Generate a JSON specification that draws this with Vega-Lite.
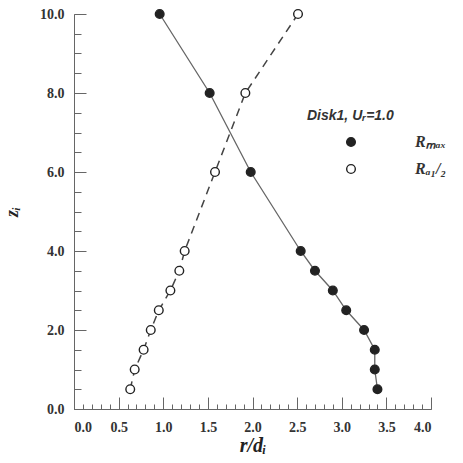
{
  "$schema": "https://vega.github.io/schema/vega-lite/v6.json",
  "width": 357,
  "height": 395,
  "autosize": "none",
  "padding": {"left": 74, "top": 14, "right": 32, "bottom": 54},
  "background": "white",
  "config": {
    "view": {"stroke": null},
    "font": "Liberation Serif",
    "axis": {"grid": false, "domainColor": "#666", "tickColor": "#666", "labelFont": "Liberation Serif", "labelFontWeight": "bold", "labelFontSize": 14, "labelColor": "#333", "titleFont": "Liberation Serif", "titleFontStyle": "italic", "titleColor": "#222"}
  },
  "data": {"values": [
    {"s": "Rₘₐₓ", "r": 0.96, "z": 10},
    {"s": "Rₘₐₓ", "r": 1.52, "z": 8},
    {"s": "Rₘₐₓ", "r": 1.98, "z": 6},
    {"s": "Rₘₐₓ", "r": 2.54, "z": 4},
    {"s": "Rₘₐₓ", "r": 2.70, "z": 3.5},
    {"s": "Rₘₐₓ", "r": 2.90, "z": 3},
    {"s": "Rₘₐₓ", "r": 3.05, "z": 2.5},
    {"s": "Rₘₐₓ", "r": 3.25, "z": 2},
    {"s": "Rₘₐₓ", "r": 3.37, "z": 1.5},
    {"s": "Rₘₐₓ", "r": 3.37, "z": 1},
    {"s": "Rₘₐₓ", "r": 3.40, "z": 0.5},
    {"s": "Rₐ₁/₂", "r": 2.51, "z": 10},
    {"s": "Rₐ₁/₂", "r": 1.92, "z": 8},
    {"s": "Rₐ₁/₂", "r": 1.58, "z": 6},
    {"s": "Rₐ₁/₂", "r": 1.24, "z": 4},
    {"s": "Rₐ₁/₂", "r": 1.18, "z": 3.5},
    {"s": "Rₐ₁/₂", "r": 1.08, "z": 3},
    {"s": "Rₐ₁/₂", "r": 0.95, "z": 2.5},
    {"s": "Rₐ₁/₂", "r": 0.86, "z": 2},
    {"s": "Rₐ₁/₂", "r": 0.78, "z": 1.5},
    {"s": "Rₐ₁/₂", "r": 0.68, "z": 1},
    {"s": "Rₐ₁/₂", "r": 0.63, "z": 0.5}
  ]},
  "resolve": {"axis": {"x": "independent", "y": "independent"}},
  "layer": [
    {
      "transform": [{"filter": "datum.s == 'Rₘₐₓ'"}],
      "mark": {"type": "line", "strokeWidth": 1.3, "color": "#666"},
      "encoding": {
        "x": {"field": "r", "type": "quantitative", "scale": {"domain": [0, 4], "nice": false, "zero": false},
          "axis": {"orient": "bottom", "values": [0,0.1,0.2,0.3,0.4,0.5,0.6,0.7,0.8,0.9,1,1.1,1.2,1.3,1.4,1.5,1.6,1.7,1.8,1.9,2,2.1,2.2,2.3,2.4,2.5,2.6,2.7,2.8,2.9,3,3.1,3.2,3.3,3.4,3.5,3.6,3.7,3.8,3.9,4], "tickSize": -5, "labels": false, "title": null, "domain": true}},
        "y": {"field": "z", "type": "quantitative", "scale": {"domain": [0, 10], "nice": false},
          "axis": {"orient": "left", "values": [0,0.5,1,1.5,2,2.5,3,3.5,4,4.5,5,5.5,6,6.5,7,7.5,8,8.5,9,9.5,10], "tickSize": -7, "labels": false, "title": null}},
        "order": {"field": "z", "type": "quantitative"}
      }
    },
    {
      "transform": [{"filter": "datum.s != 'Rₘₐₓ'"}],
      "mark": {"type": "line", "strokeWidth": 1.5, "color": "#444", "strokeDash": [8, 6]},
      "encoding": {
        "x": {"field": "r", "type": "quantitative", "axis": null},
        "y": {"field": "z", "type": "quantitative", "axis": null},
        "order": {"field": "z", "type": "quantitative"}
      }
    },
    {
      "mark": {"type": "point", "shape": "circle", "size": 75, "stroke": "#222", "strokeWidth": 1.4, "opacity": 1},
      "encoding": {
        "x": {"field": "r", "type": "quantitative",
          "axis": {"orient": "bottom", "values": [0,0.5,1,1.5,2,2.5,3,3.5,4], "format": ".1f", "tickSize": -12, "labelPadding": 23, "title": "r/dᵢ", "titleFontSize": 20, "titlePadding": 1, "domain": false}},
        "y": {"field": "z", "type": "quantitative",
          "axis": {"orient": "left", "values": [0,2,4,6,8,10], "format": ".1f", "tickSize": -12, "labelPadding": 22, "title": "zᵢ", "titleFontSize": 18, "titlePadding": 18, "domain": false}},
        "fill": {"field": "s", "type": "nominal", "scale": {"domain": ["Rₘₐₓ", "Rₐ₁/₂"], "range": ["#222", "white"]},
          "legend": {"orient": "none", "legendX": 233, "legendY": 95, "title": "Disk1, Uᵣ=1.0", "titleFont": "Liberation Sans", "titleFontStyle": "italic", "titleFontWeight": "bold", "titleFontSize": 14, "titleColor": "#333", "titlePadding": 11, "labelFont": "Liberation Serif", "labelFontStyle": "italic", "labelFontWeight": "bold", "labelFontSize": 16, "labelColor": "#333", "symbolStrokeColor": "#222", "symbolStrokeWidth": 1.4, "symbolSize": 75, "symbolOffset": 36, "labelOffset": 56, "rowPadding": 11, "symbolType": "circle"}}
      }
    }
  ]
}
